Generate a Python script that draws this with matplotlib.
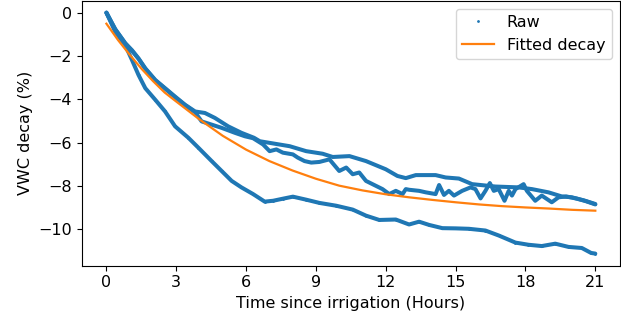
import matplotlib
matplotlib.use("Agg")
from matplotlib import pyplot as plt

plt.rcParams["font.size"] = 11.5

# raw VWC decay, three sensors (hours, %)
t_a = [0, 0.38, 0.81, 1.1, 1.38, 1.67, 2.1, 2.52, 2.95, 3.52, 3.95, 4.52, 4.95, 5.38, 5.8,
       6.3, 6.8, 7.16, 7.6, 8.01, 8.58, 9.15, 9.87, 10.58, 11.15, 11.72, 12.43, 13.0, 13.43,
       13.86, 14.43, 15.0, 15.57, 16.28, 16.85, 17.57, 18.13, 18.7, 19.28, 19.85, 20.42,
       20.82, 21.0]
vwc_a = [0.02, -0.87, -1.49, -2.18, -2.87, -3.48, -4.02, -4.56, -5.25, -5.78, -6.24, -6.86,
         -7.32, -7.78, -8.08, -8.39, -8.74, -8.7, -8.6, -8.51, -8.65, -8.8, -8.93, -9.11,
         -9.39, -9.59, -9.57, -9.8, -9.67, -9.82, -9.97, -9.98, -10.0, -10.08, -10.31,
         -10.64, -10.74, -10.8, -10.69, -10.84, -10.89, -11.12, -11.15]

t_b = [0, 0.38, 0.81, 1.1, 1.38, 1.67, 2.1, 2.52, 2.95, 3.38, 3.81, 4.23, 4.66, 5.23, 5.8,
       6.34, 6.59, 7.2, 7.87, 8.58, 9.29, 9.72, 10.44, 11.15, 12.0, 12.5, 12.86, 13.29,
       14.14, 14.57, 15.14, 15.71, 16.71, 17.71, 18.28, 18.99, 19.56, 19.99, 20.5, 21.0]
vwc_b = [0.02, -0.75, -1.4, -1.72, -2.1, -2.56, -3.1, -3.48, -3.87, -4.25, -4.56, -4.63,
         -4.86, -5.25, -5.55, -5.78, -5.94, -6.05, -6.17, -6.4, -6.52, -6.67, -6.63, -6.86,
         -7.24, -7.55, -7.65, -7.51, -7.51, -7.62, -7.67, -7.93, -8.04, -8.08, -8.16,
         -8.31, -8.5, -8.54, -8.68, -8.85]

t_c = [0, 0.38, 0.81, 1.1, 1.38, 1.67, 2.1, 2.52, 2.95, 3.38, 3.81, 4.09, 4.52, 4.95, 5.52,
       5.95, 6.3, 6.73, 7.01, 7.3, 7.58, 8.01, 8.22, 8.51, 8.8, 9.15, 9.58, 10.0, 10.3,
       10.58, 10.86, 11.15, 11.43, 11.86, 12.15, 12.43, 12.72, 12.86, 13.0, 13.43, 13.72,
       14.14, 14.29, 14.5, 14.71, 14.93, 15.28, 15.64, 15.85, 16.07, 16.28, 16.47, 16.64,
       16.85, 17.1, 17.28, 17.42, 17.57, 17.92, 18.06, 18.42, 18.7, 19.13, 19.42, 19.75,
       20.2, 20.6, 21.0]
vwc_c = [0.02, -0.75, -1.4, -1.75, -2.12, -2.58, -3.12, -3.5, -3.9, -4.27, -4.6, -5.02,
         -5.17, -5.32, -5.55, -5.71, -5.8, -6.09, -6.4, -6.32, -6.47, -6.55, -6.7, -6.86,
         -6.93, -6.9, -6.78, -7.32, -7.16, -7.47, -7.39, -7.78, -7.93, -8.16, -8.39, -8.24,
         -8.39, -8.16, -8.19, -8.24, -8.31, -8.39, -7.97, -8.43, -8.24, -8.46, -8.24, -8.08,
         -8.16, -8.59, -8.24, -7.88, -8.24, -8.16, -8.7, -8.24, -8.46, -8.16, -7.93, -8.24,
         -8.7, -8.46, -8.77, -8.54, -8.5, -8.6, -8.72, -8.87]

# fitted exponential decay, read per hour
t_fit = [0, 0.5, 1, 1.5, 2, 2.5, 3, 4, 5, 6, 7, 8, 9, 10, 11, 12, 13, 14, 15, 16, 17, 18,
         19, 20, 21]
vwc_fit = [-0.49, -1.25, -1.93, -2.57, -3.15, -3.68, -4.1, -4.93, -5.69, -6.33, -6.86, -7.3,
           -7.68, -8.0, -8.22, -8.4, -8.54, -8.66, -8.77, -8.87, -8.95, -9.01, -9.06,
           -9.12, -9.16]

fig, ax = plt.subplots(figsize=(6.21, 3.22), dpi=100)
fig.subplots_adjust(left=0.132, right=0.998, top=0.998, bottom=0.175)

for t, v in [(t_a, vwc_a), (t_b, vwc_b), (t_c, vwc_c)]:
    ax.plot(t, v, "-", color="C0", lw=2.9, solid_capstyle="round", solid_joinstyle="round")
ax.plot(t_a, vwc_a, ".", color="C0", ms=2, label="Raw")
ax.plot(t_fit, vwc_fit, color="C1", lw=1.6, label="Fitted decay")

ax.set_xticks(range(0, 22, 3))
ax.set_xlabel("Time since irrigation (Hours)")
ax.set_ylabel("VWC decay (%)")
ax.legend(loc="upper right")

fig.savefig("out.png", dpi=100)
